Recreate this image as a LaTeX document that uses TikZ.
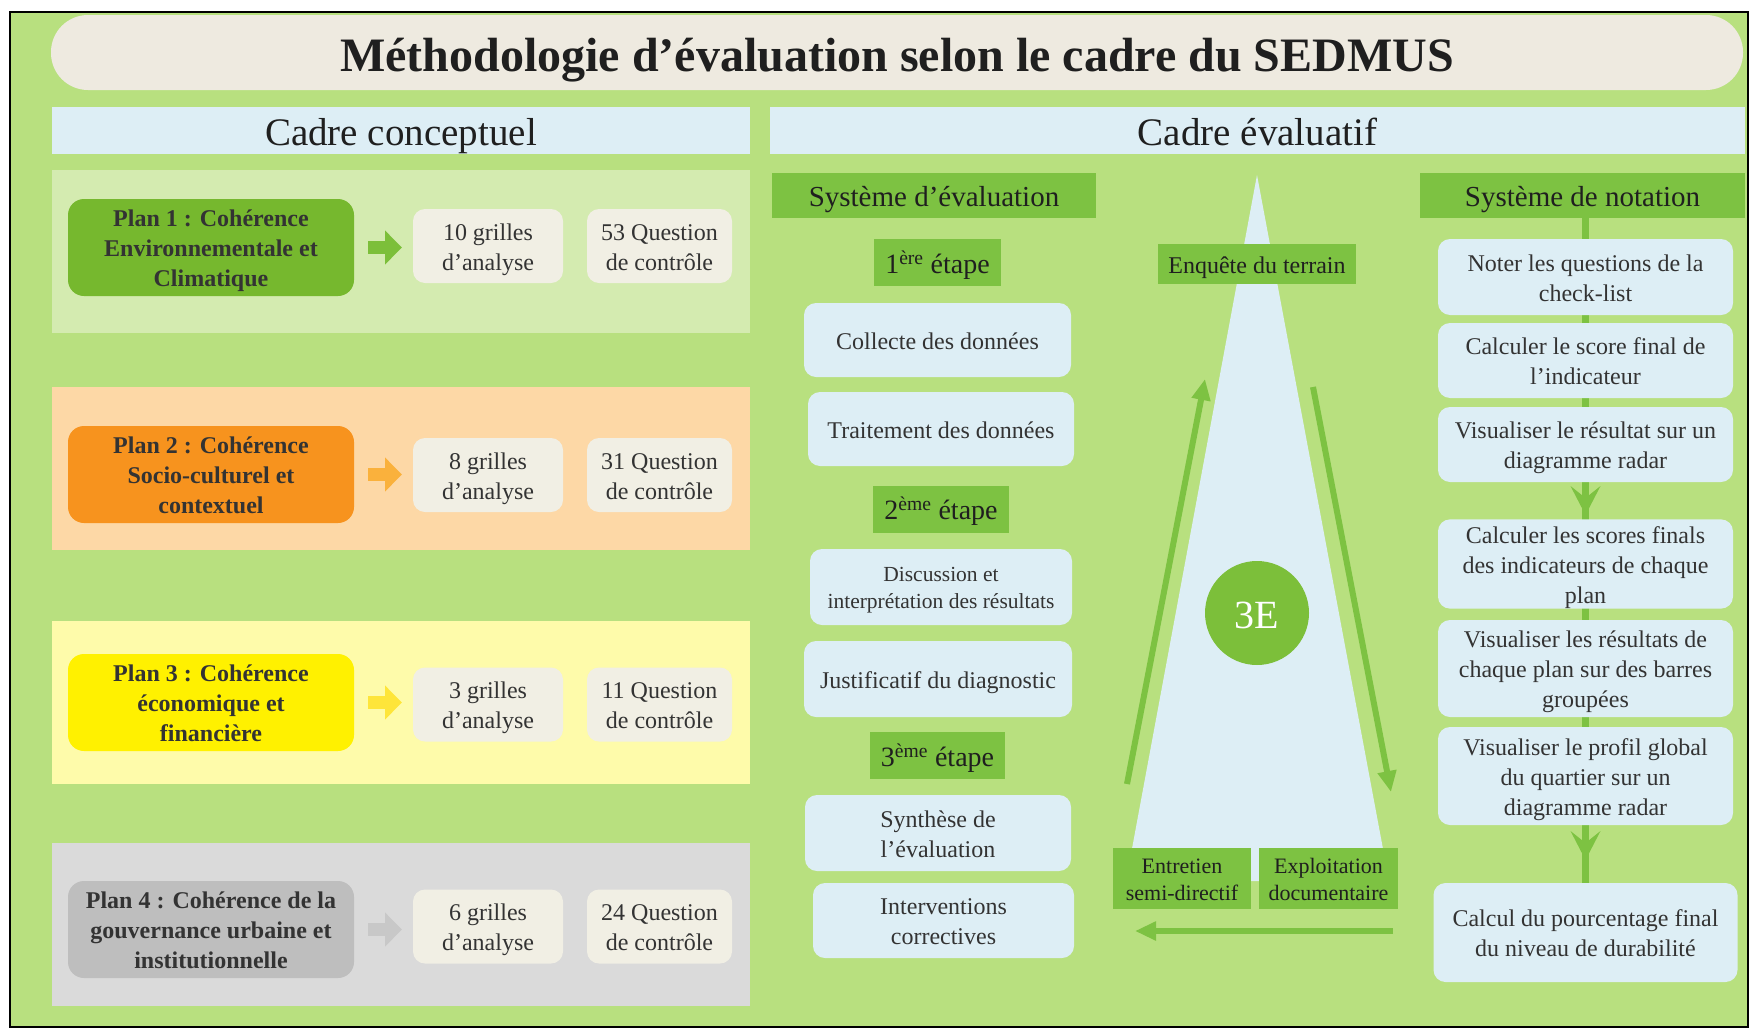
\documentclass[tikz,border=0pt]{standalone}
\usepackage{fontspec}
\setmainfont{Liberation Serif}
\usetikzlibrary{arrows.meta,calc}
\definecolor{bggreen}{HTML}{B8E07F}
\definecolor{pillc}{HTML}{EEEAE0}
\definecolor{lblue}{HTML}{DDEEF5}
\definecolor{hgreen}{HTML}{7DC242}
\definecolor{pgreen}{HTML}{76B82E}
\definecolor{cream}{HTML}{F1EFE4}
\definecolor{panA}{HTML}{D4EBB0}
\definecolor{panB}{HTML}{FDD8A6}
\definecolor{panC}{HTML}{FEFBAA}
\definecolor{panD}{HTML}{DADADA}
\definecolor{boxB}{HTML}{F7931E}
\definecolor{boxC}{HTML}{FFF100}
\definecolor{boxD}{HTML}{BEBEBE}
\definecolor{arA}{HTML}{7CBF3A}
\definecolor{arB}{HTML}{FAB13C}
\definecolor{arC}{HTML}{FEE53A}
\definecolor{arD}{HTML}{C8C8C8}
\definecolor{txt}{HTML}{333333}
\definecolor{dtxt}{HTML}{1F1F1F}
\newcommand\st{\rule{0pt}{1em}}
\tikzset{
  every node/.style={inner sep=0pt, outer sep=0pt,
    execute at begin node={\rule{0pt}{1em}},
    execute at end node={\rule[-0.22em]{0pt}{0.22em}}},
  body/.style={font=\fontsize{24}{30}\selectfont, text=txt, align=center},
  bluebox/.style={body, fill=lblue, rounded corners=12pt},
  creambox/.style={body, fill=cream, rounded corners=12pt, minimum height=74},
  grillebox/.style={creambox, minimum width=150},
  questbox/.style={creambox, minimum width=145},
  planbox/.style={font=\bfseries\fontsize{24}{30}\selectfont, text=txt, align=center, rounded corners=16pt, minimum width=286, minimum height=97},
  panel/.style={minimum width=698, minimum height=163},
  ghead/.style={fill=hgreen, text=dtxt, font=\fontsize{29}{34}\selectfont, minimum height=45},
  etape/.style={fill=hgreen, text=dtxt, font=\fontsize{28}{32}\selectfont, minimum height=47},
  gsmall/.style={fill=hgreen, text=dtxt, font=\fontsize{22}{27}\selectfont, align=center, minimum height=61},
  cadre/.style={fill=lblue, text=dtxt, font=\fontsize{39}{44}\selectfont, minimum height=47},
  blockarrow/.style={line width=13pt, -{Triangle[length=17pt,width=33pt]}, shorten <=14pt, shorten >=11pt},
  tarrow/.style={draw=hgreen, line width=6pt, -{Triangle[length=21pt,width=18pt]}},
  spine/.style={draw=hgreen, line width=7pt},
}
\newcommand\chevron[1]{\fill[hgreen] (#1) ++(-15,0) -- ++(15,12) -- ++(15,-12) -- ++(-15,29) -- cycle;}
\begin{document}
\begin{tikzpicture}[x=1pt,y=-1pt]
\useasboundingbox (0,0) rectangle (1749,1028);
\fill[white] (0,0) rectangle (1749,1028);
\draw[line width=2pt, fill=bggreen] (10,12) rectangle (1748,1027);

% title
\node[fill=pillc, rounded corners=37pt, minimum width=1692, minimum height=75,
      font=\bfseries\fontsize{48}{56}\selectfont, text=dtxt] (title) at (897,52.5)
      {Méthodologie d’évaluation selon le cadre du SEDMUS};

% section bars
\node[cadre, minimum width=698] (cc) at (401,130.5) {Cadre conceptuel};
\node[cadre, minimum width=975] (ce) at (1257.5,130.5) {Cadre évaluatif};

% ---------- left column ----------
\node[panel, fill=panA] (pa) at (401,251) {};
\node[panel, fill=panB] (pb) at (401,468.5) {};
\node[panel, fill=panC] (pc) at (401,702.5) {};
\node[panel, fill=panD] (pd) at (401,924.5) {};

\node[planbox, fill=pgreen] (p1) at (211,247.5) {\st Plan 1 : Cohérence\\Environnementale et\\Climatique};
\node[planbox, fill=boxB] (p2) at (211,474.5) {\st Plan 2 : Cohérence\\Socio-culturel et\\contextuel};
\node[planbox, fill=boxC] (p3) at (211,702.5) {\st Plan 3 : Cohérence\\économique et\\financière};
\node[planbox, fill=boxD] (p4) at (211,929.5) {\st Plan 4 : Cohérence de la\\gouvernance urbaine et\\institutionnelle};

\node[grillebox] (g1) at (488,246) {\st 10 grilles\\d’analyse};
\node[grillebox] (g2) at (488,475) {\st 8 grilles\\d’analyse};
\node[grillebox] (g3) at (488,704.5) {\st 3 grilles\\d’analyse};
\node[grillebox] (g4) at (488,926.5) {\st 6 grilles\\d’analyse};

\node[questbox] (q1) at (659.5,246) {\st 53 Question\\de contrôle};
\node[questbox] (q2) at (659.5,475) {\st 31 Question\\de contrôle};
\node[questbox] (q3) at (659.5,704.5) {\st 11 Question\\de contrôle};
\node[questbox] (q4) at (659.5,926.5) {\st 24 Question\\de contrôle};

\draw[blockarrow, arA] (p1.east) -- (p1.east -| g1.west);
\draw[blockarrow, arB] (p2.east) -- (p2.east -| g2.west);
\draw[blockarrow, arC] (p3.east) -- (p3.east -| g3.west);
\draw[blockarrow, arD] (p4.east) -- (p4.east -| g4.west);

% ---------- middle column ----------
\node[ghead, minimum width=324] (sev) at (934,195.5) {Système d’évaluation};
\node[etape, minimum width=127] (e1) at (937.5,262.5) {1\textsuperscript{ère} étape};
\node[bluebox, minimum width=267, minimum height=74] (b1) at (937.5,340) {Collecte des données};
\node[bluebox, minimum width=266, minimum height=74] (b2) at (941,429) {Traitement des données};
\node[etape, minimum width=136] (e2) at (941,509) {2\textsuperscript{ème} étape};
\node[bluebox, minimum width=262, minimum height=76, font=\fontsize{21.5}{27}\selectfont] (b3) at (941,587) {\st Discussion et\\interprétation des résultats};
\node[bluebox, minimum width=268, minimum height=76] (b4) at (938,679) {Justificatif du diagnostic};
\node[etape, minimum width=135] (e3) at (937.5,755.5) {3\textsuperscript{ème} étape};
\node[bluebox, minimum width=266, minimum height=76] (b5) at (938,833) {\st Synthèse de\\l’évaluation};
\node[bluebox, minimum width=261, minimum height=75] (b6) at (943.5,920.5) {\st Interventions\\correctives};

% triangle
\fill[lblue] (1257,175) -- (1389,881) -- (1126,881) -- cycle;
\node[fill=hgreen, text=dtxt, font=\fontsize{24}{28}\selectfont, minimum width=198, minimum height=40] (enq) at (1257,264) {Enquête du terrain};
\node[circle, fill=arA, minimum size=104, text=white, font=\fontsize{40}{40}\selectfont] (e3e) at (1257,613) {3E};
\node[gsmall, minimum width=138] (ent) at (1182,878.5) {\st Entretien\\semi-directif};
\node[gsmall, minimum width=139] (exp) at (1328.5,878.5) {\st Exploitation\\documentaire};

\coordinate (ua) at (1127,784);
\coordinate (ub) at (1205,379);
\coordinate (da) at (1313,387);
\coordinate (db) at (1391,792);
\coordinate (la) at (1393,931);
\coordinate (lb) at (1135,931);
\draw[tarrow] (ua) -- (ub);
\draw[tarrow] (da) -- (db);
\draw[tarrow] (la) -- (lb);

% ---------- right column ----------
\node[ghead, minimum width=325] (snot) at (1582.5,195.5) {Système de notation};
\coordinate (sp) at (1585.5,218);
\coordinate (spe) at (1585.5,883);
\draw[spine] (sp) -- (spe);
\node[bluebox, minimum width=295, minimum height=76] (r1) at (1585.5,277) {\st Noter les questions de la\\check-list};
\node[bluebox, minimum width=295, minimum height=75] (r2) at (1585.5,360.5) {\st Calculer le score final de\\l’indicateur};
\node[bluebox, minimum width=295, minimum height=75] (r3) at (1585.5,444.5) {\st Visualiser le résultat sur un\\diagramme radar};
\node[bluebox, minimum width=295, minimum height=88] (r4) at (1585.5,564) {\st Calculer les scores finals\\des indicateurs de chaque\\plan};
\node[bluebox, minimum width=295, minimum height=97] (r5) at (1585.5,668.5) {\st Visualiser les résultats de\\chaque plan sur des barres\\groupées};
\node[bluebox, minimum width=295, minimum height=98] (r6) at (1585.5,776) {\st Visualiser le profil global\\du quartier sur un\\diagramme radar};
\node[bluebox, minimum width=304, minimum height=99] (r7) at (1585.5,932.5) {\st Calcul du pourcentage final\\du niveau de durabilité};
\chevron{$(r3.south)+(0,4)$}
\chevron{$(r6.south)+(0,6)$}
\end{tikzpicture}
\end{document}
